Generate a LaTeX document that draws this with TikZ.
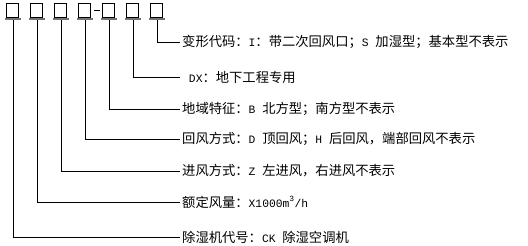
\documentclass[tikz,border=0pt]{standalone}
\usepackage{fontspec}
\setmainfont{Noto Sans CJK SC}
\newfontfamily\lat[Scale=0.85]{Liberation Mono}
\begin{document}
\begin{tikzpicture}[x=1pt,y=-1pt,
  box/.style={draw=black,line width=0.9pt,minimum width=12pt,minimum height=14pt,inner sep=0pt},
  bar/.style={fill=black!55,draw=none,minimum width=16pt,minimum height=1.6pt,inner sep=0pt},
  lbl/.style={anchor=west,inner sep=0pt,xshift=2pt,font=\fontsize{13.3}{16}\selectfont},
  conn/.style={line width=0.9pt,black}]
\useasboundingbox (0,0) rectangle (528,246);
\foreach \i in {1,...,7}{
  \node[box] (b\i) at ({12+24*(\i-1)},10.5) {};
  \node[bar] (u\i) at ({13+24*(\i-1)},18.8) {};
}
\draw[conn] ([xshift=3.5pt]b4.east) -- ([xshift=-1.5pt]b5.west);
\node[lbl] (t7) at (180,42) {变形代码：{\lat I}：带二次回风口；{\lat S }加湿型；基本型不表示};
\node[lbl] (t6) at (180,77) {{\lat\ DX}：地下工程专用};
\node[lbl] (t5) at (180,109) {地域特征：{\lat B }北方型；南方型不表示};
\node[lbl] (t4) at (180,139) {回风方式：{\lat D }顶回风；{\lat H }后回风，端部回风不表示};
\node[lbl] (t3) at (180,171) {进风方式：{\lat Z }左进风，右进风不表示};
\node[lbl] (t2) at (180,202) {额定风量：{\lat X1000m\textsuperscript{3}/h}};
\node[lbl] (t1) at (180,237) {除湿机代号：{\lat CK }除湿空调机};
\foreach \i in {1,...,7}{
  \draw[conn] (u\i.south) |- ([xshift=-2pt]t\i.west);
}
\end{tikzpicture}
\end{document}
